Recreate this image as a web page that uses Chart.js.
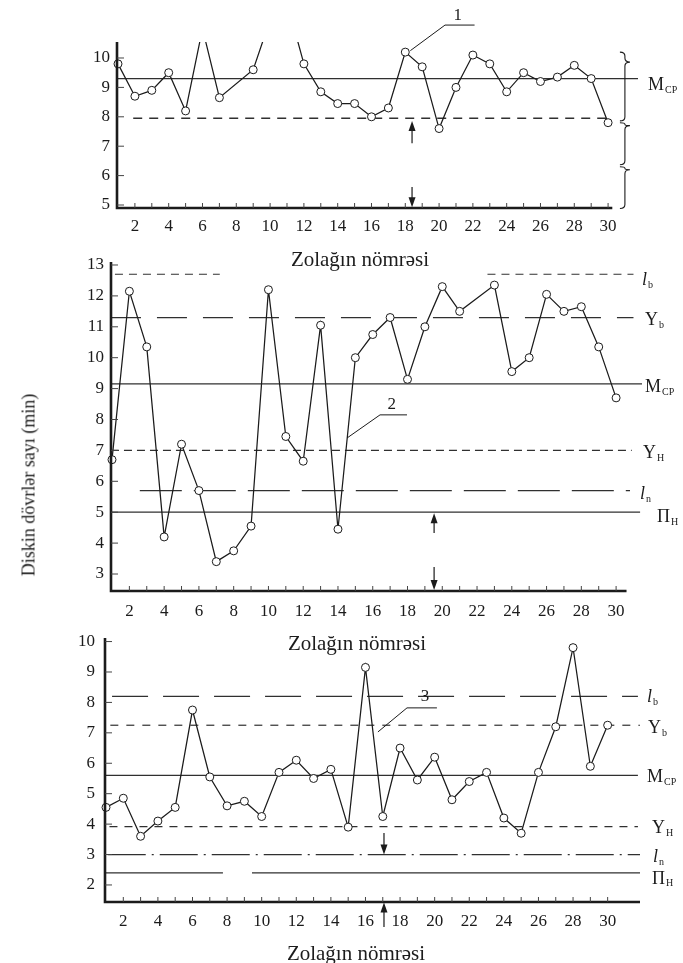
<!DOCTYPE html>
<html>
<head>
<meta charset="utf-8">
<title>Diskin dövrlər sayı</title>
<script src="https://cdn.jsdelivr.net/npm/chart.js@4/dist/chart.umd.min.js"></script>
<style>
  html, body { margin: 0; padding: 0; background: #fff; }
  #fig { position: relative; width: 683px; height: 963px; overflow: hidden; background: #fff; }
  #fig canvas { position: absolute; left: 0; top: 0; }
  .cap { position: absolute; font-family: "Liberation Serif", "DejaVu Serif", serif; color: #1c1c1c; white-space: nowrap; }
  .xt { font-size: 21px; transform: translate(-50%, -50%); }
  .yt { font-size: 18px; transform: translate(-50%, -50%) rotate(-90deg); }
</style>
</head>
<body>
<div id="fig">
  <canvas id="c1" width="683" height="963"></canvas>
  <canvas id="c2" width="683" height="963"></canvas>
  <canvas id="c3" width="683" height="963"></canvas>
  <div class="cap xt" style="left:360px; top:259px;">Zolağın nömrəsi</div>
  <div class="cap xt" style="left:357px; top:643px;">Zolağın nömrəsi</div>
  <div class="cap xt" style="left:356px; top:953px;">Zolağın nömrəsi</div>
  <div class="cap yt" style="left:29px; top:485px;">Diskin dövrlər sayı (min)</div>
</div>
<script>
// ---- data ----------------------------------------------------------------
const strips = [1, 2, 3, 4, 5, 6, 7, 8, 9, 10, 11, 12, 13, 14, 15,
                16, 17, 18, 19, 20, 21, 22, 23, 24, 25, 26, 27, 28, 29, 30];
const xTickLabels = [2, 4, 6, 8, 10, 12, 14, 16, 18, 20, 22, 24, 26, 28, 30];

// disc revolutions per strip, curve 1 (values above 10.5 run off the frame)
const revs1 = [9.8, 8.7, 8.9, 9.5, 8.2, 11.0, 8.65, null, 9.6, 11.3,
               11.9, 9.8, 8.85, 8.45, 8.45, 8.0, 8.3, 10.2, 9.7, 7.6,
               9.0, 10.1, 9.8, 8.85, 9.5, 9.2, 9.35, 9.75, 9.3, 7.8];
// curve 2
const revs2 = [6.7, 12.15, 10.35, 4.2, 7.2, 5.7, 3.4, 3.75, 4.55, 12.2,
               7.45, 6.65, 11.05, 4.45, 10.0, 10.75, 11.3, 9.3, 11.0, 12.3,
               11.5, null, 12.35, 9.55, 10.0, 12.05, 11.5, 11.65, 10.35, 8.7];
// curve 3
const revs3 = [4.55, 4.85, 3.6, 4.1, 4.55, 7.75, 5.55, 4.6, 4.75, 4.25,
               5.7, 6.1, 5.5, 5.8, 3.9, 9.15, 4.25, 6.5, 5.45, 6.2,
               4.8, 5.4, 5.7, 4.2, 3.7, 5.7, 7.2, 9.8, 5.9, 7.25];

const yTicks1 = [5, 6, 7, 8, 9, 10];
const yTicks2 = [3, 4, 5, 6, 7, 8, 9, 10, 11, 12, 13];
const yTicks3 = [2, 3, 4, 5, 6, 7, 8, 9, 10];

// control levels
const levels1 = [9.3, 7.95];
const levels2 = [12.7, 11.3, 9.15, 7.0, 5.7, 5.0];
const levels3 = [8.2, 7.25, 5.6, 3.92, 3.0, 2.4];
const levelNames1 = [['M', 'CP'], null];
const levelNames2 = [['l', 'b'], ['Y', 'b'], ['M', 'CP'], ['Y', 'H'], ['l', 'n'], ['Π', 'H']];
const levelNames3 = [['l', 'b'], ['Y', 'b'], ['M', 'CP'], ['Y', 'H'], ['l', 'n'], ['Π', 'H']];

// ---- styling ---------------------------------------------------------------
const INK = '#1b1b1b';
const INK_SOFT = '#303030';
const SERIF = '"Liberation Serif", "DejaVu Serif", serif';

// how each level line is drawn: x-extent segments and dash pattern
const levelStyles1 = [
  { spans: [[0.94, 31.77]], dash: [], width: 1.2, label: [9.5, 6.5] },
  { spans: [[1.9, 30.3]], dash: [9, 7], width: 1.4 }
];
const levelStyles2 = [
  { spans: [[1.17, 7.2], [22.6, 31.0]], dash: [8, 6], width: 1.2, label: [0, 6] },
  { spans: [[0.94, 31.0]], dash: [30, 16], width: 1.2, label: [3, 3] },
  { spans: [[0.94, 31.49]], dash: [], width: 1.3, label: [3, 3] },
  { spans: [[0.94, 30.9]], dash: [8, 5], width: 1.2, label: [1, 3] },
  { spans: [[2.6, 30.8]], dash: [42, 12], width: 1.2, label: [-2, 4] },
  { spans: [[0.94, 31.38]], dash: [], width: 1.3, label: [15, 5] }
];
const levelStyles3 = [
  { spans: [[1.35, 31.75]], dash: [36, 15], width: 1.2, label: [7, 1] },
  { spans: [[1.25, 31.87]], dash: [8, 8], width: 1.2, label: [8, 3] },
  { spans: [[0.94, 31.75]], dash: [], width: 1.3, label: [7, 2] },
  { spans: [[1.2, 31.75]], dash: [8, 7], width: 1.2, label: [12, 2] },
  { spans: [[1.1, 31.87]], dash: [38, 6, 2, 6], width: 1.2, label: [13, 3] },
  { spans: [[0.94, 7.76], [9.44, 31.87]], dash: [], width: 1.2, label: [12, 6] }
];

// ---- drawing helpers ------------------------------------------------------
function arrow(ctx, x, y1, y2) {
  const dir = Math.sign(y2 - y1) || 1;
  ctx.beginPath();
  ctx.moveTo(x, y1);
  ctx.lineTo(x, y2 - dir * 8);
  ctx.stroke();
  ctx.beginPath();
  ctx.moveTo(x, y2);
  ctx.lineTo(x - 3.5, y2 - dir * 10);
  ctx.lineTo(x + 3.5, y2 - dir * 10);
  ctx.closePath();
  ctx.fill();
}

function brace(ctx, x0, yTop, yCusp, yBot) {
  const s = x0 + 5, c = x0 + 10;
  const r1 = Math.min(4, (yCusp - yTop) / 2), r2 = Math.min(4, (yBot - yCusp) / 2);
  ctx.beginPath();
  ctx.moveTo(x0, yTop);
  ctx.quadraticCurveTo(s, yTop, s, yTop + r1);
  ctx.lineTo(s, yCusp - r1);
  ctx.quadraticCurveTo(s, yCusp, c, yCusp);
  ctx.quadraticCurveTo(s, yCusp, s, yCusp + r2);
  ctx.lineTo(s, yBot - r2);
  ctx.quadraticCurveTo(s, yBot, x0, yBot);
  ctx.stroke();
}

function levelLabel(ctx, x, y, parts) {
  const [main, sub] = parts;
  ctx.textAlign = 'left';
  ctx.textBaseline = 'middle';
  ctx.font = (main === 'l' ? 'italic ' : '') + '18px ' + SERIF;
  ctx.fillText(main, x, y);
  const w = ctx.measureText(main).width;
  ctx.font = '10px ' + SERIF;
  ctx.fillText(sub, x + w + 1, y + 5);
}

function extrasPlugin(spec) {
  return {
    id: 'figureExtras',
    afterDatasetsDraw(chart) {
      const { ctx, chartArea: a, scales: { x, y } } = chart;
      const px = v => x.getPixelForValue(v);
      const py = v => y.getPixelForValue(v);
      ctx.save();
      ctx.strokeStyle = INK;
      ctx.fillStyle = INK;

      // axes
      ctx.lineWidth = 2.6;
      ctx.beginPath();
      ctx.moveTo(a.left, a.top);
      ctx.lineTo(a.left, a.bottom + 1.3);
      ctx.moveTo(a.left - 1.3, a.bottom);
      ctx.lineTo(px(spec.axisEnd), a.bottom);
      ctx.stroke();

      // tick marks
      ctx.lineWidth = 1;
      ctx.strokeStyle = '#444';
      ctx.beginPath();
      strips.slice(1).forEach(v => {
        ctx.moveTo(px(v), a.bottom);
        ctx.lineTo(px(v), a.bottom - 5);
      });
      spec.yTicks.forEach(v => {
        ctx.moveTo(a.left, py(v));
        ctx.lineTo(a.left + 7, py(v));
      });
      ctx.stroke();

      // arrows
      ctx.strokeStyle = INK;
      ctx.lineWidth = 1.2;
      spec.arrows.forEach(ar => arrow(ctx, px(ar.x), py(ar.from), py(ar.to)));

      // braces
      ctx.lineWidth = 1.1;
      (spec.braces || []).forEach(b => brace(ctx, px(spec.braceX), py(b[0]), py(b[1]), py(b[2])));

      // curve number with leader
      ctx.lineWidth = 1;
      ctx.beginPath();
      spec.tag.path.forEach((p, i) => (i ? ctx.lineTo(px(p[0]), py(p[1])) : ctx.moveTo(px(p[0]), py(p[1]))));
      ctx.stroke();
      ctx.font = '17px ' + SERIF;
      ctx.textAlign = 'center';
      ctx.textBaseline = 'middle';
      ctx.fillText(spec.tag.text, px(spec.tag.at[0]), py(spec.tag.at[1]));

      // level names at the right
      spec.levels.forEach((v, i) => {
        const parts = spec.names[i];
        if (!parts) return;
        const [dx, dy] = spec.styles[i].label;
        levelLabel(ctx, a.right + dx, py(v) + dy, parts);
      });
      ctx.restore();
    }
  };
}

function buildChart(id, spec) {
  const datasets = [];
  spec.levels.forEach((v, i) => {
    const st = spec.styles[i];
    const pts = [];
    st.spans.forEach((s, k) => {
      if (k > 0) pts.push({ x: (st.spans[k - 1][1] + s[0]) / 2, y: null });
      pts.push({ x: s[0], y: v }, { x: s[1], y: v });
    });
    datasets.push({
      data: pts, borderColor: INK_SOFT, borderWidth: st.width, borderDash: st.dash,
      pointRadius: 0, spanGaps: false, order: 2
    });
  });
  datasets.push({
    data: strips.map((s, i) => ({ x: s, y: spec.values[i] })),
    borderColor: INK, borderWidth: 1.25, tension: 0,
    pointRadius: 4, pointHoverRadius: 4, pointBackgroundColor: '#fff',
    pointBorderColor: INK, pointBorderWidth: 1,
    spanGaps: true, clip: { left: 10, right: 10, top: 0, bottom: 10 }, order: 1
  });

  const b = spec.box;
  return new Chart(document.getElementById(id), {
    type: 'line',
    data: { datasets },
    options: {
      responsive: false,
      animation: false,
      events: [],
      layout: { padding: { left: b.left - 40, right: 683 - b.right, top: b.top, bottom: 963 - b.bottom - 40 } },
      plugins: { legend: { display: false }, tooltip: { enabled: false }, title: { display: false } },
      scales: {
        x: {
          type: 'linear', min: spec.xMin, max: spec.xMax,
          grid: { display: false, drawTicks: false }, border: { display: false },
          afterBuildTicks: s => { s.ticks = xTickLabels.map(v => ({ value: v })); },
          afterFit: s => { s.height = 40; },
          ticks: { padding: spec.xPad, autoSkip: false, maxRotation: 0, color: INK, font: { family: SERIF, size: 17 } }
        },
        y: {
          type: 'linear', min: spec.yMin, max: spec.yMax,
          grid: { display: false, drawTicks: false }, border: { display: false },
          afterBuildTicks: s => { s.ticks = spec.yTicks.map(v => ({ value: v })); },
          afterFit: s => { s.width = 40; },
          ticks: { padding: spec.yPad, autoSkip: false, color: INK, font: { family: SERIF, size: 17 } }
        }
      }
    },
    plugins: [extrasPlugin(spec)]
  });
}

// ---- the three panels ----------------------------------------------------
buildChart('c1', {
  box: { left: 117, right: 638.5, top: 42, bottom: 208 },
  xMin: 0.9408, xMax: 31.8, yMin: 4.898, yMax: 10.544,
  xPad: 8, yPad: 7, axisEnd: 30.25,
  values: revs1, yTicks: yTicks1,
  levels: levels1, names: levelNames1, styles: levelStyles1,
  arrows: [{ x: 18.4, from: 7.1, to: 7.86 }, { x: 18.4, from: 5.61, to: 4.92 }],
  braceX: 30.7,
  braces: [[10.2, 9.86, 7.86], [7.8, 7.7, 6.37], [6.3, 6.2, 4.88]],
  tag: { text: '1', path: [[18.3, 10.25], [20.35, 11.12], [22.1, 11.12]], at: [21.1, 11.46] }
});

buildChart('c2', {
  box: { left: 111, right: 642, top: 262, bottom: 591 },
  xMin: 0.9425, xMax: 31.49, yMin: 2.45, yMax: 13.097,
  xPad: 10, yPad: 7, axisEnd: 30.6,
  values: revs2, yTicks: yTicks2,
  levels: levels2, names: levelNames2, styles: levelStyles2,
  arrows: [{ x: 19.53, from: 4.33, to: 4.97 }, { x: 19.53, from: 3.23, to: 2.48 }],
  tag: { text: '2', path: [[14.52, 7.4], [16.42, 8.15], [17.97, 8.15]], at: [17.1, 8.5] }
});

buildChart('c3', {
  box: { left: 105, right: 640, top: 638, bottom: 902 },
  xMin: 0.942, xMax: 31.87, yMin: 1.44, yMax: 10.117,
  xPad: 9, yPad: 10, axisEnd: 31.87,
  values: revs3, yTicks: yTicks3,
  levels: levels3, names: levelNames3, styles: levelStyles3,
  arrows: [{ x: 17.07, from: 3.71, to: 3.0 }, { x: 17.07, from: 0.62, to: 1.42 }],
  tag: { text: '3', path: [[16.72, 7.03], [18.4, 7.82], [20.13, 7.82]], at: [19.44, 8.2] }
});
</script>
</body>
</html>
